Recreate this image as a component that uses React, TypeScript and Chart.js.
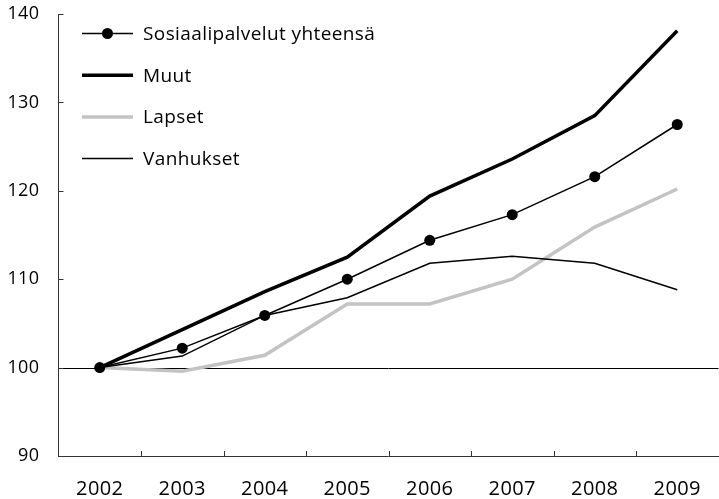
import React, { useEffect, useRef } from "react";
import { Chart, registerables } from "chart.js";

Chart.register(...registerables);

const years = ["2002", "2003", "2004", "2005", "2006", "2007", "2008", "2009"];
const sosiaalipalvelut = [100, 102.2, 105.9, 110.0, 114.4, 117.3, 121.6, 127.5];
const muut = [100, 104.3, 108.6, 112.5, 119.4, 123.6, 128.5, 138.1];
const lapset = [100, 99.6, 101.4, 107.2, 107.2, 110.0, 115.9, 120.2];
const vanhukset = [100, 101.3, 105.9, 107.9, 111.8, 112.6, 111.8, 108.8];
const yTicks = [90, 100, 110, 120, 130, 140];
const seriesNames = ["Sosiaalipalvelut yhteensä", "Muut", "Lapset", "Vanhukset"];

const FONT = "'Open Sans', 'Liberation Sans', sans-serif";

const spacing = {
  id: "spacing",
  beforeDraw(chart: any) {
    chart.ctx.letterSpacing = "0.4px";
  },
};

const axisDecor = {
  id: "axisDecor",
  beforeDatasetsDraw(chart: any) {
    const { ctx, chartArea, scales } = chart;
    const y = scales.y;
    ctx.save();
    ctx.strokeStyle = "#000";
    ctx.lineWidth = 1;
    const y100 = Math.round(y.getPixelForValue(100)) + 0.5;
    ctx.beginPath();
    ctx.moveTo(chartArea.left, y100);
    ctx.lineTo(chartArea.right, y100);
    ctx.stroke();
    ctx.strokeStyle = "#333";
    for (const v of yTicks) {
      if (v === 90) continue;
      const py = Math.round(y.getPixelForValue(v)) + 0.5;
      ctx.beginPath();
      ctx.moveTo(chartArea.left, py);
      ctx.lineTo(chartArea.left + 5, py);
      ctx.stroke();
    }
    const n = years.length;
    const w = (chartArea.right - chartArea.left) / n;
    for (let i = 1; i < n; i++) {
      const px = Math.round(chartArea.left + i * w) + 0.5;
      ctx.beginPath();
      ctx.moveTo(px, chartArea.bottom);
      ctx.lineTo(px, chartArea.bottom - 5);
      ctx.stroke();
    }
    ctx.restore();
  },
};

const legendPlugin = {
  id: "customLegend",
  afterDraw(chart: any) {
    const { ctx } = chart;
    ctx.save();
    const x0 = 82;
    const x1 = 133;
    const tx = 143;
    const startY = 33.5;
    const step = 41.7;
    chart.data.datasets.forEach((ds: any, i: number) => {
      const yy = startY + i * step;
      ctx.strokeStyle = ds.borderColor;
      ctx.lineWidth = ds.borderWidth;
      ctx.beginPath();
      ctx.moveTo(x0, yy);
      ctx.lineTo(x1, yy);
      ctx.stroke();
      if (ds.pointRadius > 0) {
        ctx.fillStyle = ds.pointBackgroundColor;
        ctx.beginPath();
        ctx.arc((x0 + x1) / 2, yy, ds.pointRadius, 0, Math.PI * 2);
        ctx.fill();
      }
      ctx.fillStyle = "#000";
      ctx.font = `19px ${FONT}`;
      ctx.letterSpacing = "0.4px";
      ctx.textBaseline = "middle";
      ctx.textAlign = "left";
      ctx.fillText(ds.label, tx, yy + 1);
    });
    ctx.restore();
  },
};

export default function App() {
  const ref = useRef<HTMLCanvasElement | null>(null);
  useEffect(() => {
    if (!ref.current) return;
    const chart = new Chart(ref.current, {
      type: "line",
      data: {
        labels: years,
        datasets: [
          {
            label: seriesNames[0],
            data: sosiaalipalvelut,
            borderColor: "#000",
            borderWidth: 1.5,
            pointRadius: 5.5,
            pointBackgroundColor: "#000",
            pointBorderWidth: 0,
            order: 1,
          },
          {
            label: seriesNames[1],
            data: muut,
            borderColor: "#000",
            borderWidth: 3.5,
            pointRadius: 0,
            order: 2,
          },
          {
            label: seriesNames[2],
            data: lapset,
            borderColor: "#c3c3c3",
            borderWidth: 3.5,
            pointRadius: 0,
            order: 4,
          },
          {
            label: seriesNames[3],
            data: vanhukset,
            borderColor: "#000",
            borderWidth: 1.5,
            pointRadius: 0,
            order: 3,
          },
        ],
      },
      options: {
        responsive: false,
        animation: false,
        layout: { padding: { top: 14, right: 0, left: 0, bottom: 0 } },
        plugins: {
          legend: { display: false },
          tooltip: { enabled: false },
        },
        elements: { line: { tension: 0 } },
        scales: {
          x: {
            offset: true,
            grid: { display: true, drawOnChartArea: false, drawTicks: false, offset: true },
            border: { display: true, color: "#333", width: 1 },
            ticks: { color: "#000", font: { family: FONT, size: 20 }, padding: 21 },
            afterFit: (s: any) => {
              s.height = 43;
              s.paddingLeft = 0;
              s.paddingRight = 0;
            },
          },
          y: {
            min: 90,
            max: 140,
            grid: { display: true, drawOnChartArea: false, drawTicks: false },
            border: { display: true, color: "#333", width: 1 },
            ticks: {
              stepSize: 10,
              color: "#000",
              font: { family: FONT, size: 18 },
              padding: 19,
              callback: (v: any) => (yTicks.includes(Number(v)) ? String(v) : ""),
            },
            afterFit: (s: any) => {
              s.width = 58.5;
              s.paddingTop = 0;
              s.paddingBottom = 0;
            },
          },
        },
      },
      plugins: [spacing, axisDecor, legendPlugin],
    });
    return () => chart.destroy();
  }, []);
  return (
    <div style={{ position: "fixed", left: 0, top: 0, width: 719, height: 499, overflow: "hidden", background: "#fff" }}>
      <canvas ref={ref} width={724} height={499} style={{ display: "block", width: 724, height: 499 }} />
    </div>
  );
}
